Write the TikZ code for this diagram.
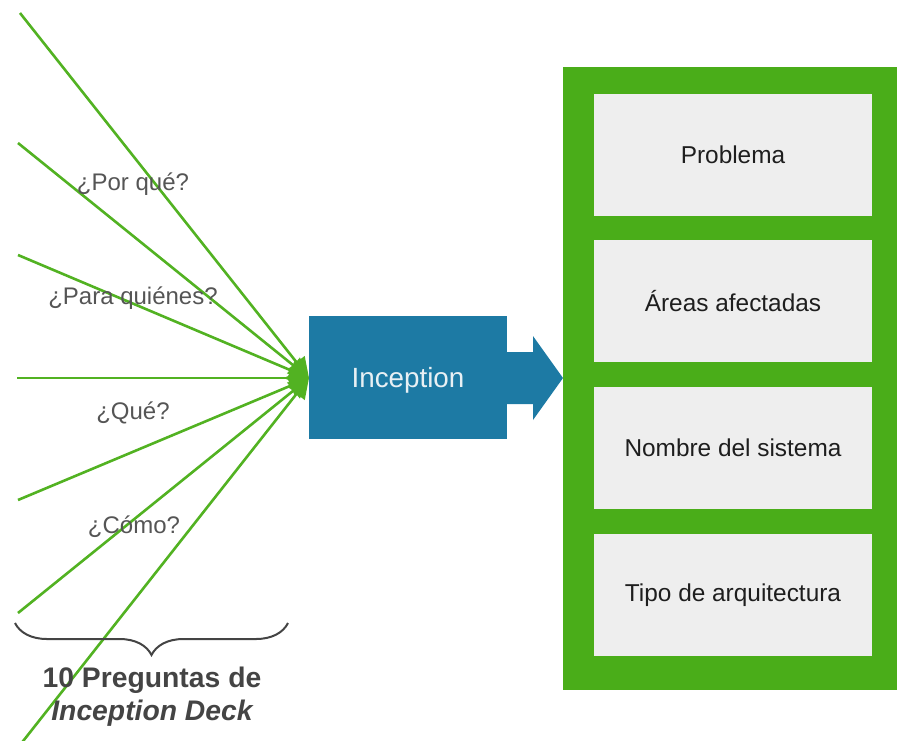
\documentclass[tikz,border=0pt]{standalone}
\usepackage{fontspec}
\setmainfont{Liberation Sans}
\usetikzlibrary{arrows.meta,decorations.pathreplacing}
\definecolor{ibgreen}{RGB}{74,173,25}
\definecolor{lngreen}{RGB}{82,178,34}
\definecolor{ibblue}{RGB}{29,122,164}
\definecolor{boxgray}{RGB}{238,238,238}
\definecolor{lblgray}{RGB}{85,85,85}
\definecolor{brgray}{RGB}{68,68,68}
\begin{document}
\begin{tikzpicture}[x=1pt,y=-1pt,
  ray/.style={draw=lngreen,line width=2.6pt,-{Triangle[length=20pt,width=20pt]}},
  qlabel/.style={font=\fontsize{24}{27}\selectfont,text=lblgray,inner sep=0pt},
  itembox/.style={fill=boxgray,draw=none,minimum width=278pt,minimum height=122pt,inner sep=0pt,
     font=\fontsize{24.4}{27}\selectfont,text={rgb,255:red,30;green,30;blue,30}},
]
\useasboundingbox (0,0) rectangle (897,740);
% green frame
\node[fill=ibgreen,minimum width=334pt,minimum height=623pt,inner sep=0pt,anchor=north west] (frame) at (563,67) {};
\node[itembox] (b1) at (733,155) {Problema};
\node[itembox] (b2) at (733,301) {Áreas afectadas};
\node[itembox] (b3) at (733,448) {Nombre del sistema};
\node[itembox] (b4) at (733,595) {Tipo de arquitectura};
% inception
\node[fill=ibblue,minimum width=198pt,minimum height=123pt,inner sep=0pt,anchor=north west] (inc) at (309,316) {};
\node[font=\fontsize{27.8}{30}\selectfont,text={rgb,255:red,232;green,240;blue,244},inner sep=0pt] (inctxt) at (408,380) {Inception};
\fill[ibblue] (506,352) -- (533,352) -- (533,336) -- (563,378) -- (533,420) -- (533,404) -- (506,404) -- cycle;
% rays
\coordinate (tip) at (309,378);
\coordinate (s1) at (20,13);
\coordinate (s2) at (18,143);
\coordinate (s3) at (18,255);
\coordinate (s4) at (17,378);
\coordinate (s5) at (18,500);
\coordinate (s6) at (18,613);
\coordinate (s7) at (20,745);
\foreach \s in {s1,s2,s3,s4,s5,s6,s7} \draw[ray] (\s) -- (tip);
% labels
\node[qlabel] (q1) at (133,184) {¿Por qué?};
\node[qlabel] (q2) at (133,298) {¿Para quiénes?};
\node[qlabel] (q3) at (133,413) {¿Qué?};
\node[qlabel] (q4) at (134,527) {¿Cómo?};
% brace
\coordinate (bl) at (15,623);
\coordinate (br) at (288,623);
\draw[brgray,line width=2pt,decorate,decoration={brace,mirror,amplitude=32pt,aspect=0.5}] (bl) -- (br);
\node[font=\bfseries\fontsize{28.3}{30}\selectfont,text=brgray,inner sep=0pt] (t1) at (152,680) {10 Preguntas de};
\node[font=\bfseries\itshape\fontsize{28.3}{30}\selectfont,text=brgray,inner sep=0pt] (t2) at (152,713) {Inception Deck};
\end{tikzpicture}
\end{document}
